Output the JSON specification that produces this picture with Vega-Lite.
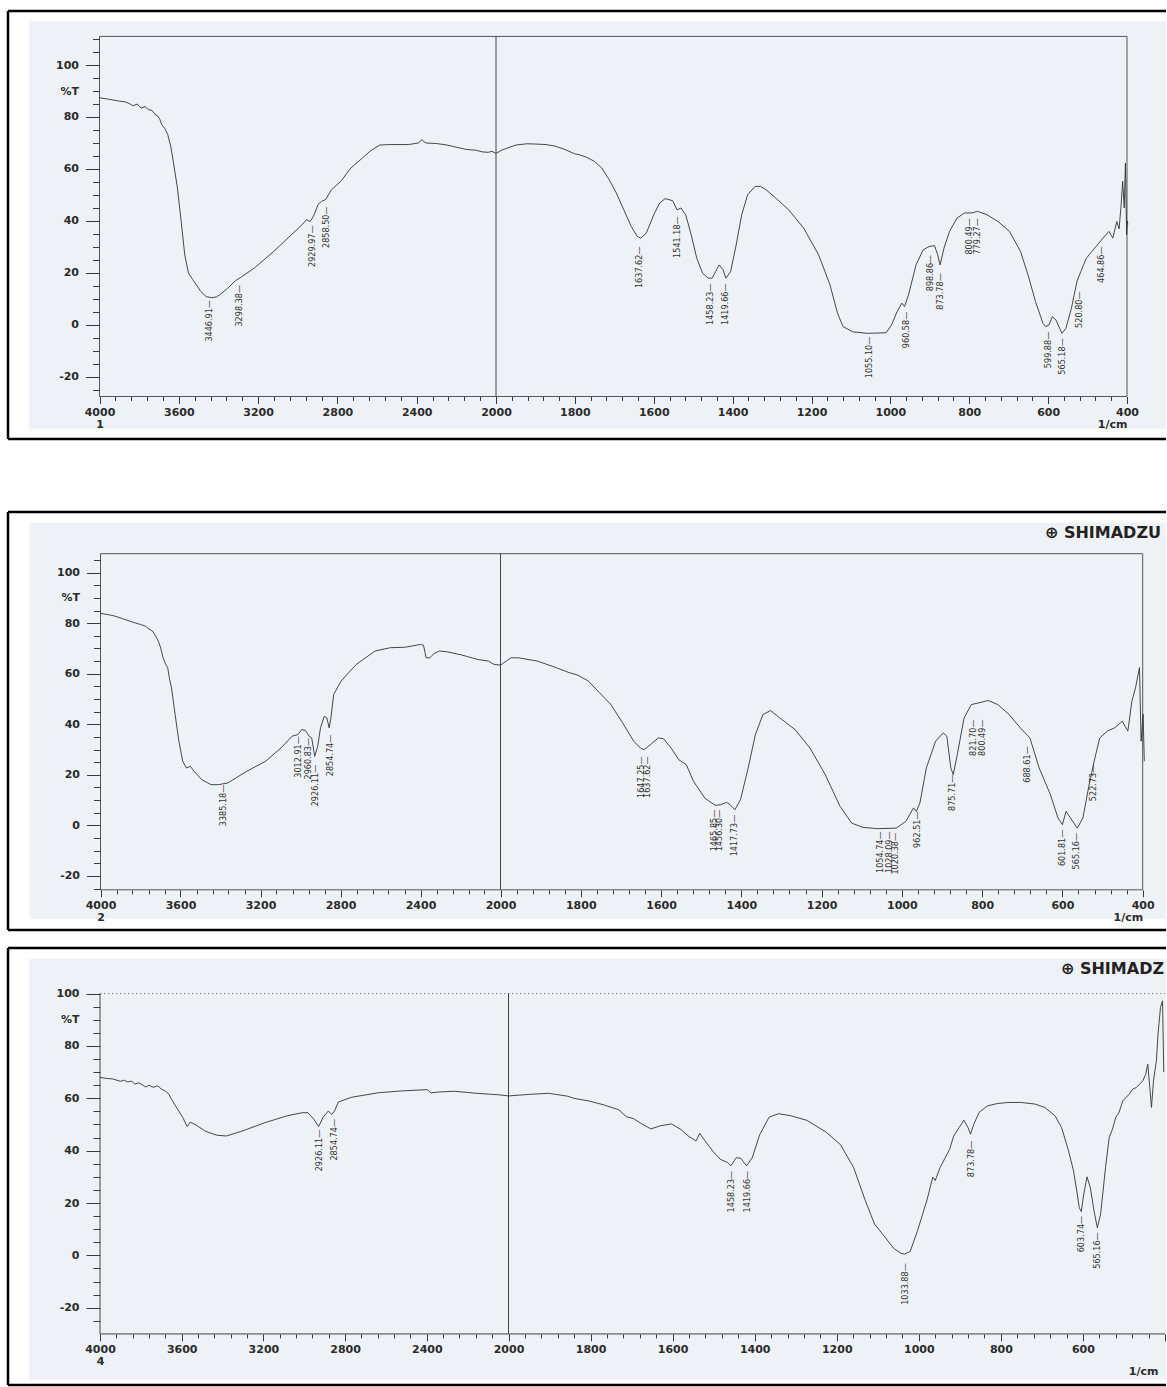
{
  "$schema": "https://vega.github.io/schema/vega-lite/v6.json",
  "background": "white",
  "padding": {"left": 6, "top": 9, "right": 0, "bottom": 0},
  "bounds": "flush",
  "spacing": 73,
  "config": {
    "view": {"stroke": null},
    "axis": {"grid": false, "domain": false, "labelFont": "DejaVu Sans", "labelFontSize": 11, "labelFontWeight": "bold", "labelColor": "#2b2b2b", "tickColor": "#3a3a3a", "tickWidth": 1, "titleFont": "DejaVu Sans", "titleFontSize": 11, "titleFontWeight": "bold", "titleColor": "#2b2b2b"}
  },
  "vconcat": [
    {
      "width": 1158, "height": 428,
      "encoding": {
        "x": {"field": "x", "type": "quantitative",
          "scale": {"domain": [4461.5, 4000, 2000, 400, 301.1], "range": [0, 91.5, 488, 1119, 1158], "nice": false, "zero": false},
          "axis": {"orient": "bottom", "offset": -42.5, "zindex": 1, "labelFlush": false, "labelOverlap": false,
            "values": [4000,3920,3840,3760,3680,3600,3520,3440,3360,3280,3200,3120,3040,2960,2880,2800,2720,2640,2560,2480,2400,2320,2240,2160,2080,2000,1960,1920,1880,1840,1800,1760,1720,1680,1640,1600,1560,1520,1480,1440,1400,1360,1320,1280,1240,1200,1160,1120,1080,1040,1000,960,920,880,840,800,760,720,680,640,600,560,520,480,440,400],
            "labelExpr": "datum.value === 4000 ? ['4000', '1'] : (((datum.value >= 2000 && datum.value % 400 === 0) || (datum.value <= 2000 && datum.value % 200 === 0)) ? toString(datum.value) : '')",
            "tickSize": {"condition": {"test": "(datum.value >= 2000 && datum.value % 400 === 0) || (datum.value <= 2000 && datum.value % 200 === 0)", "value": 7}, "value": 4},
            "labelPadding": 3, "labelLineHeight": 12,
            "title": "1/cm", "titleX": 1119, "titleY": 28, "titleAlign": "right", "titleBaseline": "middle", "titleAngle": 0}},
        "y": {"field": "y", "type": "quantitative",
          "scale": {"domain": [-43.85, 120.77], "nice": false, "zero": false},
          "axis": {"orient": "left", "offset": -91.5, "zindex": 1, "labelOverlap": false, "labelFlush": false,
            "values": [-25,-20,-15,-10,-5,0,5,10,15,20,25,30,35,40,45,50,55,60,65,70,75,80,85,90,95,100,105,110],
            "labelExpr": "datum.value % 20 === 0 ? toString(datum.value) : ''",
            "tickSize": {"condition": {"test": "datum.value % 20 === 0", "value": 14}, "value": 7},
            "labelPadding": 7,
            "title": "%T", "titleAngle": 0, "titleAlign": "right", "titleBaseline": "middle", "titleX": -21, "titleY": 80}}
      },
      "layer": [
        {"data": {"values": [{"x": 4355.6, "x2": 301.1, "y": 116.9, "y2": -40}]},
         "mark": {"type": "rect", "fill": "#eef1f5"}, "encoding": {"x2": {"field": "x2"}, "y2": {"field": "y2"}}},
        {"data": {"values": [{"x": 4461.5, "x2": 301.1, "y": 120.77, "y2": 120.77}, {"x": 4461.5, "x2": 301.1, "y": -43.85, "y2": -43.85}, {"x": 4461.5, "x2": 4461.5, "y": -43.85, "y2": 120.77}]},
         "mark": {"type": "rule", "stroke": "#000000", "strokeWidth": 2.5}, "encoding": {"x2": {"field": "x2"}, "y2": {"field": "y2"}}},
        {"data": {"values": [{"x": 4000, "x2": 400, "y": 111, "y2": -27.5}]},
         "mark": {"type": "rect", "fill": null, "stroke": "#555555", "strokeWidth": 1}, "encoding": {"x2": {"field": "x2"}, "y2": {"field": "y2"}}},
        {"data": {"values": [{"x": 2000, "x2": 2000, "y": 111, "y2": -27.5}]},
         "mark": {"type": "rule", "stroke": "#444444", "strokeWidth": 1}, "encoding": {"x2": {"field": "x2"}, "y2": {"field": "y2"}}},
        {"data": {"values": [
          {"x":4000,"y":87.4},{"x":3950,"y":86.8},{"x":3900,"y":86.1},{"x":3870,"y":85.8},{"x":3850,"y":85.2},{"x":3830,"y":84.3},{"x":3810,"y":85.0},{"x":3790,"y":83.4},{"x":3770,"y":84.0},{"x":3754,"y":82.9},{"x":3735,"y":82.5},{"x":3720,"y":81.0},{"x":3705,"y":80.3},{"x":3695,"y":79.0},{"x":3686,"y":77.1},{"x":3670,"y":75.5},{"x":3656,"y":73.3},{"x":3640,"y":68.5},{"x":3628,"y":63.0},{"x":3607,"y":52.7},{"x":3588,"y":39.8},{"x":3570,"y":27.0},{"x":3551,"y":19.9},{"x":3530,"y":17.5},{"x":3511,"y":15.4},{"x":3490,"y":13.0},{"x":3462,"y":10.9},{"x":3434,"y":10.5},{"x":3410,"y":10.8},{"x":3394,"y":11.6},{"x":3354,"y":14.1},{"x":3315,"y":17.0},{"x":3290,"y":18.2},{"x":3219,"y":21.9},{"x":3121,"y":28.3},{"x":3024,"y":35.3},{"x":2975,"y":38.8},{"x":2956,"y":40.5},{"x":2937,"y":39.8},{"x":2917,"y":42.4},{"x":2898,"y":46.3},{"x":2879,"y":47.6},{"x":2860,"y":48.2},{"x":2830,"y":52.0},{"x":2780,"y":55.5},{"x":2732,"y":60.4},{"x":2680,"y":63.8},{"x":2636,"y":66.8},{"x":2587,"y":69.2},{"x":2538,"y":69.4},{"x":2441,"y":69.4},{"x":2392,"y":70.0},{"x":2373,"y":71.3},{"x":2362,"y":70.4},{"x":2353,"y":70.0},{"x":2300,"y":69.8},{"x":2247,"y":69.2},{"x":2149,"y":67.5},{"x":2100,"y":67.2},{"x":2070,"y":66.6},{"x":2040,"y":66.4},{"x":2020,"y":66.8},{"x":2000,"y":66.0},{"x":1985,"y":67.3},{"x":1970,"y":68.1},{"x":1950,"y":69.2},{"x":1922,"y":69.7},{"x":1900,"y":69.6},{"x":1873,"y":69.4},{"x":1850,"y":68.8},{"x":1825,"y":67.5},{"x":1800,"y":65.8},{"x":1789,"y":65.5},{"x":1770,"y":64.5},{"x":1751,"y":63.0},{"x":1732,"y":60.4},{"x":1713,"y":55.9},{"x":1695,"y":50.8},{"x":1676,"y":44.3},{"x":1657,"y":37.9},{"x":1642,"y":34.1},{"x":1633,"y":33.4},{"x":1619,"y":35.3},{"x":1600,"y":42.4},{"x":1585,"y":46.9},{"x":1571,"y":48.6},{"x":1552,"y":47.8},{"x":1541,"y":44.3},{"x":1531,"y":45.0},{"x":1519,"y":42.4},{"x":1505,"y":34.7},{"x":1491,"y":25.7},{"x":1476,"y":19.9},{"x":1462,"y":18.0},{"x":1452,"y":18.0},{"x":1443,"y":20.6},{"x":1434,"y":23.1},{"x":1424,"y":21.2},{"x":1417,"y":18.0},{"x":1405,"y":20.6},{"x":1391,"y":30.8},{"x":1377,"y":42.4},{"x":1362,"y":50.1},{"x":1343,"y":53.3},{"x":1329,"y":53.3},{"x":1315,"y":52.0},{"x":1286,"y":48.2},{"x":1258,"y":44.3},{"x":1220,"y":37.3},{"x":1182,"y":27.0},{"x":1153,"y":15.4},{"x":1134,"y":4.5},{"x":1120,"y":-0.6},{"x":1096,"y":-2.6},{"x":1059,"y":-3.2},{"x":1011,"y":-3.0},{"x":997,"y":0.0},{"x":983,"y":5.1},{"x":971,"y":8.4},{"x":964,"y":7.1},{"x":954,"y":11.6},{"x":935,"y":23.1},{"x":917,"y":28.9},{"x":902,"y":30.2},{"x":888,"y":30.5},{"x":880,"y":27.0},{"x":874,"y":23.1},{"x":864,"y":29.6},{"x":850,"y":36.0},{"x":831,"y":41.1},{"x":812,"y":43.1},{"x":793,"y":43.1},{"x":779,"y":43.7},{"x":755,"y":42.4},{"x":727,"y":39.8},{"x":698,"y":36.0},{"x":670,"y":28.3},{"x":651,"y":19.3},{"x":632,"y":9.0},{"x":613,"y":0.6},{"x":606,"y":-0.6},{"x":598,"y":0.0},{"x":589,"y":3.2},{"x":580,"y":1.9},{"x":565,"y":-3.2},{"x":555,"y":-1.3},{"x":541,"y":6.4},{"x":527,"y":16.7},{"x":517,"y":20.6},{"x":503,"y":25.7},{"x":489,"y":28.3},{"x":475,"y":30.8},{"x":461,"y":33.4},{"x":446,"y":36.0},{"x":436,"y":33.4},{"x":426,"y":39.8},{"x":420,"y":37.0},{"x":415,"y":46.0},{"x":411,"y":55.3},{"x":407,"y":45.0},{"x":404,"y":62.3},{"x":401,"y":34.7},{"x":399,"y":40.0},{"x":398,"y":38.6}
        ]},
         "mark": {"type": "line", "stroke": "#333333", "strokeWidth": 0.9}},
        {"data": {"values": [
          {"x":3446.91,"y":9.6,"t":"3446.91—"},{"x":3298.38,"y":15.4,"t":"3298.38—"},{"x":2929.97,"y":38.3,"t":"2929.97—"},{"x":2858.50,"y":45.6,"t":"2858.50—"},{"x":1637.62,"y":30.2,"t":"1637.62—"},{"x":1541.18,"y":41.8,"t":"1541.18—"},{"x":1458.23,"y":16.0,"t":"1458.23—"},{"x":1419.66,"y":16.0,"t":"1419.66—"},{"x":1055.10,"y":-4.5,"t":"1055.10—"},{"x":960.58,"y":5.1,"t":"960.58—"},{"x":898.86,"y":27.0,"t":"898.86—"},{"x":873.78,"y":19.9,"t":"873.78—"},{"x":800.49,"y":41.1,"t":"800.49—"},{"x":779.27,"y":41.1,"t":"779.27—"},{"x":599.88,"y":-2.6,"t":"599.88—"},{"x":565.18,"y":-5.1,"t":"565.18—"},{"x":520.80,"y":12.9,"t":"520.80—"},{"x":464.86,"y":30.2,"t":"464.86—"}
        ]},
         "mark": {"type": "text", "angle": 270, "align": "right", "baseline": "middle", "font": "Liberation Sans Narrow, DejaVu Sans Condensed, Roboto Condensed, sans-serif", "fontSize": 9, "fill": "#333333"},
         "encoding": {"text": {"field": "t", "type": "nominal"}}}
      ]
    },
    {
      "bounds": "flush",
      "spacing": 18,
      "vconcat": [
        {
          "width": 1158, "height": 418,
          "encoding": {
            "x": {"field": "x", "type": "quantitative",
              "scale": {"domain": [4462.5, 4000, 2000, 400, 341.95], "range": [0, 92.5, 492.5, 1134.7, 1158], "nice": false, "zero": false},
              "axis": {"orient": "bottom", "offset": -40.2, "zindex": 1, "labelFlush": false, "labelOverlap": false,
                "values": [4000,3920,3840,3760,3680,3600,3520,3440,3360,3280,3200,3120,3040,2960,2880,2800,2720,2640,2560,2480,2400,2320,2240,2160,2080,2000,1960,1920,1880,1840,1800,1760,1720,1680,1640,1600,1560,1520,1480,1440,1400,1360,1320,1280,1240,1200,1160,1120,1080,1040,1000,960,920,880,840,800,760,720,680,640,600,560,520,480,440,400],
                "labelExpr": "datum.value === 4000 ? ['4000', '2'] : (((datum.value >= 2000 && datum.value % 400 === 0) || (datum.value <= 2000 && datum.value % 200 === 0)) ? toString(datum.value) : '')",
                "tickSize": {"condition": {"test": "(datum.value >= 2000 && datum.value % 400 === 0) || (datum.value <= 2000 && datum.value % 200 === 0)", "value": 7}, "value": 4},
                "labelPadding": 3, "labelLineHeight": 12,
                "title": "1/cm", "titleX": 1134.7, "titleY": 28, "titleAlign": "right", "titleBaseline": "middle", "titleAngle": 0}},
            "y": {"field": "y", "type": "quantitative",
              "scale": {"domain": [-41.4, 124.0], "nice": false, "zero": false},
              "axis": {"orient": "left", "offset": -92.5, "zindex": 1, "labelOverlap": false, "labelFlush": false,
                "values": [-25,-20,-15,-10,-5,0,5,10,15,20,25,30,35,40,45,50,55,60,65,70,75,80,85,90,95,100,105],
                "labelExpr": "datum.value % 20 === 0 ? toString(datum.value) : ''",
                "tickSize": {"condition": {"test": "datum.value % 20 === 0", "value": 14}, "value": 7},
                "labelPadding": 7,
                "title": "%T", "titleAngle": 0, "titleAlign": "right", "titleBaseline": "middle", "titleX": -21, "titleY": 85.9}}
          },
          "layer": [
            {"data": {"values": [{"x": 4354, "x2": 341.95, "y": 119.8, "y2": -36.9}]},
             "mark": {"type": "rect", "fill": "#eef1f5"}, "encoding": {"x2": {"field": "x2"}, "y2": {"field": "y2"}}},
            {"data": {"values": [{"x": 4462.5, "x2": 341.95, "y": 124.0, "y2": 124.0}, {"x": 4462.5, "x2": 341.95, "y": -41.4, "y2": -41.4}, {"x": 4462.5, "x2": 4462.5, "y": -41.4, "y2": 124.0}]},
             "mark": {"type": "rule", "stroke": "#000000", "strokeWidth": 2.5}, "encoding": {"x2": {"field": "x2"}, "y2": {"field": "y2"}}},
            {"data": {"values": [{"x": 4000, "x2": 400, "y": 107.5, "y2": -25.5}]},
             "mark": {"type": "rect", "fill": null, "stroke": "#555555", "strokeWidth": 1}, "encoding": {"x2": {"field": "x2"}, "y2": {"field": "y2"}}},
            {"data": {"values": [{"x": 2000, "x2": 2000, "y": 107.5, "y2": -25.5}]},
             "mark": {"type": "rule", "stroke": "#444444", "strokeWidth": 1}, "encoding": {"x2": {"field": "x2"}, "y2": {"field": "y2"}}},
            {"data": {"values": [
              {"x":4000,"y":83.9},{"x":3950,"y":83.2},{"x":3928,"y":82.8},{"x":3890,"y":81.8},{"x":3853,"y":80.8},{"x":3830,"y":80.2},{"x":3800,"y":79.5},{"x":3777,"y":78.9},{"x":3760,"y":77.8},{"x":3740,"y":76.9},{"x":3725,"y":75.0},{"x":3711,"y":72.9},{"x":3700,"y":70.5},{"x":3687,"y":66.3},{"x":3674,"y":63.7},{"x":3664,"y":62.4},{"x":3655,"y":58.0},{"x":3645,"y":54.4},{"x":3627,"y":43.9},{"x":3608,"y":33.3},{"x":3589,"y":25.4},{"x":3570,"y":22.7},{"x":3551,"y":23.4},{"x":3532,"y":21.4},{"x":3494,"y":18.1},{"x":3447,"y":16.1},{"x":3410,"y":16.1},{"x":3363,"y":16.8},{"x":3269,"y":21.4},{"x":3174,"y":25.4},{"x":3098,"y":30.6},{"x":3042,"y":35.3},{"x":3013,"y":35.9},{"x":2994,"y":37.9},{"x":2976,"y":37.6},{"x":2957,"y":35.3},{"x":2944,"y":34.6},{"x":2929,"y":27.3},{"x":2914,"y":31.3},{"x":2900,"y":38.6},{"x":2881,"y":43.2},{"x":2868,"y":42.5},{"x":2857,"y":38.6},{"x":2849,"y":41.9},{"x":2834,"y":51.8},{"x":2797,"y":57.1},{"x":2721,"y":63.7},{"x":2627,"y":69.0},{"x":2551,"y":70.3},{"x":2476,"y":70.5},{"x":2400,"y":71.6},{"x":2385,"y":71.3},{"x":2372,"y":66.3},{"x":2353,"y":66.3},{"x":2334,"y":67.9},{"x":2306,"y":69.0},{"x":2268,"y":68.7},{"x":2193,"y":67.4},{"x":2117,"y":65.7},{"x":2060,"y":65.0},{"x":2032,"y":63.7},{"x":2000,"y":63.4},{"x":1992,"y":64.3},{"x":1974,"y":66.3},{"x":1955,"y":66.3},{"x":1908,"y":65.0},{"x":1861,"y":62.4},{"x":1830,"y":60.5},{"x":1808,"y":59.5},{"x":1781,"y":57.1},{"x":1753,"y":52.4},{"x":1725,"y":47.8},{"x":1696,"y":40.6},{"x":1668,"y":33.3},{"x":1650,"y":30.4},{"x":1642,"y":30.0},{"x":1631,"y":31.3},{"x":1607,"y":34.6},{"x":1594,"y":34.3},{"x":1575,"y":30.6},{"x":1556,"y":26.0},{"x":1537,"y":24.0},{"x":1519,"y":17.4},{"x":1491,"y":10.8},{"x":1465,"y":7.9},{"x":1451,"y":8.2},{"x":1437,"y":9.1},{"x":1428,"y":8.2},{"x":1416,"y":6.2},{"x":1402,"y":10.2},{"x":1383,"y":22.7},{"x":1365,"y":35.9},{"x":1346,"y":43.9},{"x":1327,"y":45.4},{"x":1304,"y":42.5},{"x":1266,"y":37.9},{"x":1229,"y":30.6},{"x":1191,"y":20.1},{"x":1154,"y":7.5},{"x":1125,"y":0.9},{"x":1097,"y":-0.8},{"x":1060,"y":-1.3},{"x":1014,"y":-1.1},{"x":990,"y":1.6},{"x":971,"y":6.9},{"x":964,"y":5.5},{"x":955,"y":8.9},{"x":939,"y":22.7},{"x":916,"y":33.3},{"x":897,"y":36.6},{"x":888,"y":35.3},{"x":878,"y":22.7},{"x":872,"y":20.1},{"x":862,"y":28.0},{"x":845,"y":42.5},{"x":827,"y":47.8},{"x":808,"y":48.5},{"x":785,"y":49.4},{"x":761,"y":47.8},{"x":733,"y":43.9},{"x":705,"y":38.6},{"x":681,"y":34.6},{"x":658,"y":22.7},{"x":630,"y":12.2},{"x":611,"y":2.9},{"x":600,"y":0.3},{"x":591,"y":5.5},{"x":581,"y":3.2},{"x":563,"y":-1.1},{"x":549,"y":2.9},{"x":535,"y":14.8},{"x":521,"y":25.4},{"x":507,"y":34.6},{"x":488,"y":37.3},{"x":470,"y":38.6},{"x":451,"y":41.2},{"x":437,"y":37.3},{"x":427,"y":49.1},{"x":418,"y":54.4},{"x":408,"y":62.4},{"x":404,"y":33.3},{"x":399,"y":43.9},{"x":396,"y":25.4}
            ]},
             "mark": {"type": "line", "stroke": "#333333", "strokeWidth": 0.9}},
            {"data": {"values": [
              {"x":3385.18,"y":16.1,"t":"3385.18—"},{"x":3012.91,"y":35.3,"t":"3012.91—"},{"x":2960.83,"y":34.6,"t":"2960.83—"},{"x":2926.11,"y":24.0,"t":"2926.11—"},{"x":2854.74,"y":35.9,"t":"2854.74—"},{"x":1649,"y":27.3,"t":"1647.25—"},{"x":1636,"y":27.3,"t":"1637.62—"},{"x":1467,"y":6.2,"t":"1465.85—"},{"x":1455,"y":6.2,"t":"1456.30—"},{"x":1417.73,"y":4.2,"t":"1417.73—"},{"x":1054.74,"y":-2.4,"t":"1054.74—"},{"x":1031,"y":-2.4,"t":"1028.09—"},{"x":1017,"y":-3.0,"t":"1020.38—"},{"x":962.51,"y":5.5,"t":"962.51—"},{"x":875.71,"y":20.1,"t":"875.71—"},{"x":821.70,"y":41.9,"t":"821.70—"},{"x":800.49,"y":41.9,"t":"800.49—"},{"x":688.61,"y":31.3,"t":"688.61—"},{"x":601.81,"y":-1.7,"t":"601.81—"},{"x":565.16,"y":-3.0,"t":"565.16—"},{"x":522.73,"y":24.0,"t":"522.73—"}
            ]},
             "mark": {"type": "text", "angle": 270, "align": "right", "baseline": "middle", "font": "Liberation Sans Narrow, DejaVu Sans Condensed, Roboto Condensed, sans-serif", "fontSize": 9, "fill": "#333333"},
             "encoding": {"text": {"field": "t", "type": "nominal"}}},
            {"data": {"values": [{"x": 354.4, "y": 115.7, "t": "⊕ SHIMADZU"}]},
             "mark": {"type": "text", "align": "right", "baseline": "middle", "font": "DejaVu Sans", "fontWeight": "bold", "fontSize": 16, "fill": "#222222"},
             "encoding": {"text": {"field": "t", "type": "nominal"}}}
          ]
        },
        {
          "width": 1158, "height": 437,
          "encoding": {
            "x": {"field": "x", "type": "quantitative",
              "scale": {"domain": [4450.4, 4000, 2000, 400, 397.6], "range": [0, 92, 500.5, 1157, 1158], "nice": false, "zero": false},
              "axis": {"orient": "bottom", "offset": -51.1, "zindex": 1, "labelFlush": false, "labelOverlap": false,
                "values": [4000,3920,3840,3760,3680,3600,3520,3440,3360,3280,3200,3120,3040,2960,2880,2800,2720,2640,2560,2480,2400,2320,2240,2160,2080,2000,1960,1920,1880,1840,1800,1760,1720,1680,1640,1600,1560,1520,1480,1440,1400,1360,1320,1280,1240,1200,1160,1120,1080,1040,1000,960,920,880,840,800,760,720,680,640,600,560,520,480,440,400],
                "labelExpr": "datum.value === 4000 ? ['4000', '4'] : (datum.value === 400 ? '' : (((datum.value >= 2000 && datum.value % 400 === 0) || (datum.value <= 2000 && datum.value % 200 === 0)) ? toString(datum.value) : ''))",
                "tickSize": {"condition": {"test": "(datum.value >= 2000 && datum.value % 400 === 0) || (datum.value <= 2000 && datum.value % 200 === 0)", "value": 7}, "value": 4},
                "labelPadding": 3, "labelLineHeight": 12,
                "title": "1/cm", "titleX": 1150, "titleY": 38, "titleAlign": "right", "titleBaseline": "middle", "titleAngle": 0}},
            "y": {"field": "y", "type": "quantitative",
              "scale": {"domain": [-49.5, 117.4], "nice": false, "zero": false},
              "axis": {"orient": "left", "offset": -92, "zindex": 1, "labelOverlap": false, "labelFlush": false,
                "values": [-25,-20,-15,-10,-5,0,5,10,15,20,25,30,35,40,45,50,55,60,65,70,75,80,85,90,95,100],
                "labelExpr": "datum.value % 20 === 0 ? toString(datum.value) : ''",
                "tickSize": {"condition": {"test": "datum.value % 20 === 0", "value": 14}, "value": 7},
                "labelPadding": 7,
                "title": "%T", "titleAngle": 0, "titleAlign": "right", "titleBaseline": "middle", "titleX": -21, "titleY": 71.7}}
          },
          "layer": [
            {"data": {"values": [{"x": 4347.6, "x2": 397.6, "y": 113.2, "y2": -47.5}]},
             "mark": {"type": "rect", "fill": "#eef1f5"}, "encoding": {"x2": {"field": "x2"}, "y2": {"field": "y2"}}},
            {"data": {"values": [{"x": 4450.4, "x2": 397.6, "y": 117.4, "y2": 117.4}, {"x": 4450.4, "x2": 397.6, "y": -49.5, "y2": -49.5}, {"x": 4450.4, "x2": 4450.4, "y": -49.5, "y2": 117.4}]},
             "mark": {"type": "rule", "stroke": "#000000", "strokeWidth": 2.5}, "encoding": {"x2": {"field": "x2"}, "y2": {"field": "y2"}}},
            {"data": {"values": [{"x": 4000, "x2": 400, "y": 100, "y2": 100}]},
             "mark": {"type": "rule", "stroke": "#888888", "strokeWidth": 1, "strokeDash": [1.5, 2.5]}, "encoding": {"x2": {"field": "x2"}, "y2": {"field": "y2"}}},
            {"data": {"values": [{"x": 4000, "x2": 4000, "y": 100, "y2": -30}, {"x": 4000, "x2": 400, "y": -30, "y2": -30}, {"x": 2000, "x2": 2000, "y": 100, "y2": -30}]},
             "mark": {"type": "rule", "stroke": "#444444", "strokeWidth": 1}, "encoding": {"x2": {"field": "x2"}, "y2": {"field": "y2"}}},
            {"data": {"values": [
              {"x":4000,"y":68.0},{"x":3970,"y":67.6},{"x":3939,"y":67.4},{"x":3900,"y":66.5},{"x":3880,"y":66.9},{"x":3865,"y":66.2},{"x":3845,"y":66.6},{"x":3830,"y":65.4},{"x":3810,"y":65.9},{"x":3791,"y":65.1},{"x":3775,"y":64.3},{"x":3760,"y":65.0},{"x":3740,"y":64.2},{"x":3716,"y":64.8},{"x":3700,"y":63.5},{"x":3679,"y":62.7},{"x":3665,"y":61.8},{"x":3651,"y":59.8},{"x":3623,"y":56.2},{"x":3595,"y":52.7},{"x":3573,"y":49.2},{"x":3558,"y":50.9},{"x":3530,"y":49.8},{"x":3484,"y":47.4},{"x":3428,"y":45.9},{"x":3382,"y":45.6},{"x":3307,"y":47.4},{"x":3196,"y":50.6},{"x":3084,"y":53.3},{"x":3010,"y":54.5},{"x":2982,"y":54.5},{"x":2954,"y":52.1},{"x":2930,"y":49.2},{"x":2908,"y":52.7},{"x":2883,"y":55.1},{"x":2865,"y":53.9},{"x":2852,"y":55.1},{"x":2833,"y":58.6},{"x":2768,"y":60.4},{"x":2638,"y":62.1},{"x":2527,"y":62.8},{"x":2397,"y":63.3},{"x":2379,"y":62.1},{"x":2341,"y":62.4},{"x":2267,"y":62.7},{"x":2155,"y":61.9},{"x":2044,"y":61.3},{"x":2000,"y":60.9},{"x":1949,"y":61.5},{"x":1902,"y":61.9},{"x":1856,"y":60.8},{"x":1841,"y":60.0},{"x":1805,"y":59.0},{"x":1768,"y":57.5},{"x":1731,"y":55.6},{"x":1713,"y":53.0},{"x":1695,"y":52.2},{"x":1676,"y":50.3},{"x":1653,"y":48.3},{"x":1630,"y":49.5},{"x":1603,"y":50.2},{"x":1580,"y":48.1},{"x":1562,"y":45.6},{"x":1543,"y":43.7},{"x":1534,"y":46.6},{"x":1520,"y":43.5},{"x":1502,"y":39.8},{"x":1484,"y":36.7},{"x":1466,"y":35.5},{"x":1458,"y":34.2},{"x":1445,"y":37.3},{"x":1434,"y":37.1},{"x":1420,"y":34.2},{"x":1406,"y":37.3},{"x":1388,"y":46.0},{"x":1365,"y":52.8},{"x":1342,"y":54.1},{"x":1314,"y":53.4},{"x":1273,"y":51.6},{"x":1227,"y":47.2},{"x":1191,"y":42.3},{"x":1159,"y":33.6},{"x":1131,"y":21.2},{"x":1108,"y":12.0},{"x":1085,"y":7.5},{"x":1062,"y":2.8},{"x":1044,"y":0.8},{"x":1035,"y":0.5},{"x":1021,"y":1.5},{"x":1003,"y":9.5},{"x":980,"y":21.2},{"x":966,"y":29.9},{"x":960,"y":28.6},{"x":948,"y":33.6},{"x":925,"y":40.5},{"x":915,"y":45.6},{"x":902,"y":48.8},{"x":890,"y":51.6},{"x":880,"y":48.8},{"x":874,"y":46.3},{"x":866,"y":50.1},{"x":853,"y":54.6},{"x":833,"y":57.1},{"x":808,"y":58.0},{"x":783,"y":58.4},{"x":750,"y":58.4},{"x":717,"y":57.8},{"x":693,"y":56.5},{"x":668,"y":53.3},{"x":652,"y":48.8},{"x":635,"y":39.9},{"x":623,"y":32.3},{"x":615,"y":24.6},{"x":609,"y":18.3},{"x":604,"y":16.7},{"x":598,"y":23.4},{"x":590,"y":30.0},{"x":582,"y":25.9},{"x":573,"y":17.0},{"x":565,"y":10.6},{"x":557,"y":15.7},{"x":545,"y":33.5},{"x":536,"y":45.0},{"x":528,"y":48.2},{"x":520,"y":52.7},{"x":512,"y":54.6},{"x":503,"y":59.0},{"x":495,"y":60.3},{"x":487,"y":61.6},{"x":479,"y":63.5},{"x":470,"y":64.1},{"x":462,"y":65.4},{"x":454,"y":66.7},{"x":447,"y":69.2},{"x":442,"y":73.0},{"x":437,"y":64.1},{"x":433,"y":56.5},{"x":428,"y":66.7},{"x":421,"y":74.3},{"x":417,"y":84.5},{"x":411,"y":94.7},{"x":406,"y":97.2},{"x":403,"y":70.0}
            ]},
             "mark": {"type": "line", "stroke": "#333333", "strokeWidth": 0.9}},
            {"data": {"values": [
              {"x":2926.11,"y":48.0,"t":"2926.11—"},{"x":2854.74,"y":52.1,"t":"2854.74—"},{"x":1458.23,"y":32.3,"t":"1458.23—"},{"x":1419.66,"y":32.3,"t":"1419.66—"},{"x":1033.88,"y":-3.0,"t":"1033.88—"},{"x":873.78,"y":43.8,"t":"873.78—"},{"x":603.74,"y":15.1,"t":"603.74—"},{"x":565.16,"y":8.8,"t":"565.16—"}
            ]},
             "mark": {"type": "text", "angle": 270, "align": "right", "baseline": "middle", "font": "Liberation Sans Narrow, DejaVu Sans Condensed, Roboto Condensed, sans-serif", "fontSize": 9, "fill": "#333333"},
             "encoding": {"text": {"field": "t", "type": "nominal"}}},
            {"data": {"values": [{"x": 402.4, "y": 109.4, "t": "⊕ SHIMADZ"}]},
             "mark": {"type": "text", "align": "right", "baseline": "middle", "font": "DejaVu Sans", "fontWeight": "bold", "fontSize": 16, "fill": "#222222"},
             "encoding": {"text": {"field": "t", "type": "nominal"}}}
          ]
        }
      ]
    }
  ]
}
